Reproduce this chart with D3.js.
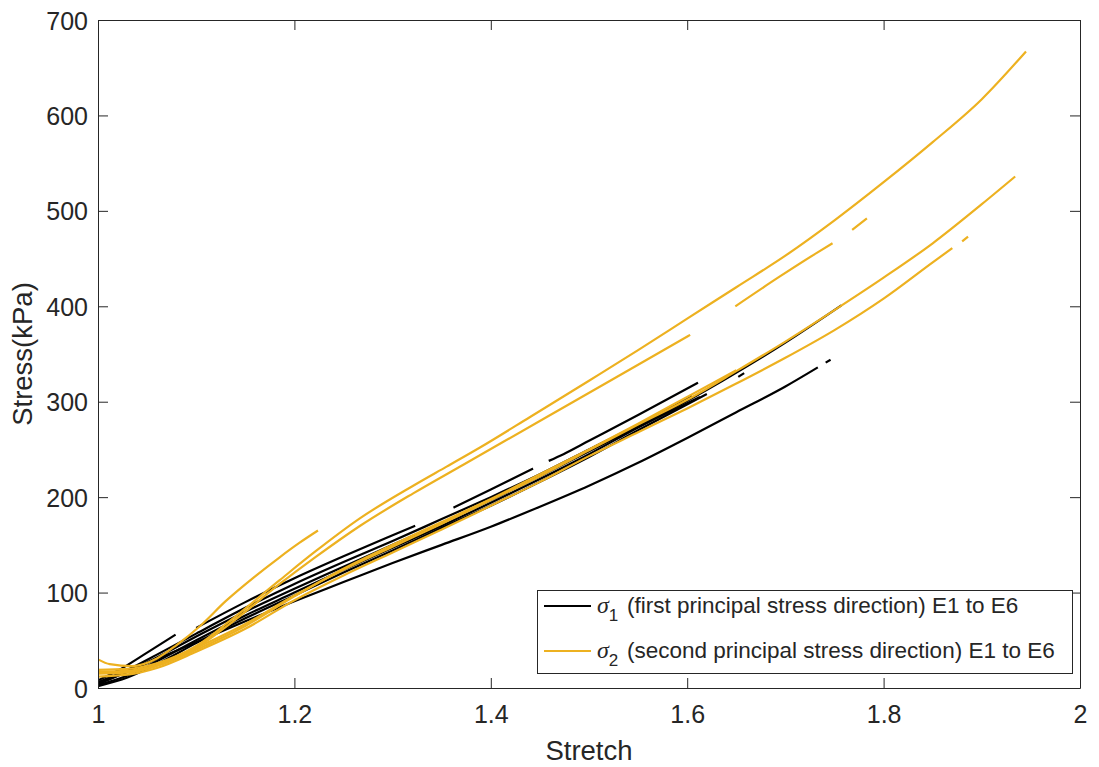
<!DOCTYPE html>
<html>
<head>
<meta charset="utf-8">
<script src="https://cdn.jsdelivr.net/npm/d3@7"></script>
<style>
  html, body { margin: 0; padding: 0; background: #fff; }
  svg { display: block; font-family: "Liberation Sans", Arial, Helvetica, sans-serif; }
</style>
</head>
<body>
<svg id="chart" width="1099" height="767"></svg>
<script>
// ---------- data (stretch, stress kPa); null = gap in the record ----------
const xTicks = [1, 1.2, 1.4, 1.6, 1.8, 2];
const xTickLabels = ["1", "1.2", "1.4", "1.6", "1.8", "2"];
const yTicks = [0, 100, 200, 300, 400, 500, 600, 700];
const yTickLabels = ["0", "100", "200", "300", "400", "500", "600", "700"];

// sigma_1 (first principal stress direction), E1..E6
const sigma1_E1 = [[1.0,4],[1.05,26],[1.1,48],[1.15,70],[1.2,91],[1.25,111],[1.3,131],[1.35,150],[1.4,169],[1.45,190],[1.5,212],[1.55,236],[1.6,262],[1.65,289],[1.7,316],[1.733,336],null,[1.741,341],[1.746,344]];
const sigma1_E2 = [[1.0,8],[1.02,18],[1.05,37],[1.079,56],null,[1.1,63],[1.15,90],[1.2,115],[1.25,138],[1.3,160],[1.323,170],null,[1.362,189],[1.4,208],[1.443,230],null,[1.459,238],[1.474,245],[1.5,259],[1.55,286],[1.611,320]];
const sigma1_E3 = [[1.0,5],[1.03,17],[1.06,32],[1.1,54],[1.15,80],[1.2,104],[1.25,127],[1.3,150],[1.35,173],[1.4,197],[1.45,222],[1.5,248],[1.55,274],[1.6,301],[1.636,322],[1.7,362],[1.757,401]];
const sigma1_E4 = [[1.0,3],[1.03,13],[1.06,28],[1.1,50],[1.15,76],[1.2,100],[1.25,124],[1.3,147],[1.35,170],[1.4,194],[1.45,219],[1.5,245],[1.55,273],[1.613,305],null,[1.652,326],[1.658,330]];
const sigma1_E5 = [[1.0,6],[1.03,19],[1.06,35],[1.1,57],[1.15,84],[1.2,109],[1.25,132],[1.3,154],[1.35,177],[1.4,200],[1.45,224],[1.5,250],[1.55,276],[1.605,306]];
const sigma1_E6 = [[1.0,2],[1.03,11],[1.06,25],[1.1,47],[1.15,73],[1.2,97],[1.25,121],[1.3,144],[1.35,168],[1.4,191],[1.45,216],[1.5,242],[1.55,270],[1.62,308]];

// sigma_2 (second principal stress direction), E1..E6
const sigma2_E1 = [[1.0,19],[1.03,20],[1.06,26],[1.1,44],[1.134,70],[1.185,113],[1.22,142],[1.267,178],[1.321,212],[1.355,232],[1.389,252],[1.44,284],[1.5,322],[1.55,354],[1.6,387],[1.65,420],[1.7,453],[1.75,490],[1.8,530],[1.85,572],[1.9,617],[1.945,667]];
const sigma2_E2 = [[1.0,16],[1.03,17],[1.06,24],[1.1,42],[1.134,67],[1.185,109],[1.22,136],[1.267,170],[1.321,204],[1.372,234],[1.457,284],[1.542,334],[1.603,370],null,[1.649,400],[1.694,431],[1.732,456],[1.748,466],null,[1.768,480],[1.783,492]];
const sigma2_E3 = [[1.0,30],[1.012,25],[1.035,23],[1.06,31],[1.08,45],[1.104,65],[1.13,91],[1.16,117],[1.185,137],[1.205,152],[1.224,165]];
const sigma2_E4 = [[1.0,17],[1.03,18],[1.06,24],[1.1,42],[1.15,67],[1.2,97],[1.25,124],[1.3,148],[1.35,172],[1.4,197],[1.45,222],[1.5,249],[1.55,276],[1.6,302],[1.65,332],[1.7,363],[1.75,396],[1.8,430],[1.85,466],[1.9,507],[1.934,536]];
const sigma2_E5 = [[1.0,12],[1.03,14],[1.06,21],[1.1,38],[1.15,62],[1.2,92],[1.25,118],[1.3,142],[1.35,166],[1.4,191],[1.45,216],[1.5,243],[1.55,268],[1.6,293],[1.65,319],[1.7,346],[1.75,375],[1.8,408],[1.85,446],[1.870,461],null,[1.880,468],[1.886,473]];
const sigma2_E6 = [[1.0,15],[1.03,16],[1.06,23],[1.1,40],[1.15,65],[1.2,96],[1.25,125],[1.3,150],[1.35,174],[1.4,198],[1.45,224],[1.5,250],[1.55,277],[1.6,305],[1.65,333]];

const sigma1Series = [sigma1_E1, sigma1_E2, sigma1_E3, sigma1_E4, sigma1_E5, sigma1_E6];
const sigma2Series = [sigma2_E1, sigma2_E2, sigma2_E3, sigma2_E4, sigma2_E5, sigma2_E6];

const legendLabels = ["(first principal stress direction) E1 to E6", "(second principal stress direction) E1 to E6"];

// ---------- layout ----------
const svg = d3.select("#chart");
const mLeft = 98, mRight = 1080, mTop = 20, mBottom = 688;
const axisColor = "#262626";
const c1 = "#000000", c2 = "#EDB120";

const x = d3.scaleLinear().domain([1, 2]).range([mLeft, mRight]);
const y = d3.scaleLinear().domain([0, 700]).range([mBottom, mTop]);

svg.append("clipPath").attr("id", "clip")
  .append("rect").attr("x", mLeft).attr("y", mTop).attr("width", mRight - mLeft).attr("height", mBottom - mTop);

const line = d3.line()
  .defined(d => d !== null)
  .curve(d3.curveMonotoneX)
  .x(d => x(d[0]))
  .y(d => y(d[1]));

const g = svg.append("g").attr("clip-path", "url(#clip)");
sigma1Series.forEach(s => g.append("path").attr("d", line(s)).attr("fill", "none")
  .attr("stroke", c1).attr("stroke-width", 2.2).attr("stroke-linejoin", "round"));
sigma2Series.forEach(s => g.append("path").attr("d", line(s)).attr("fill", "none")
  .attr("stroke", c2).attr("stroke-width", 2.2).attr("stroke-linejoin", "round"));

// axes
const fmtX = (d, i) => xTickLabels[i];
const fmtY = (d, i) => yTickLabels[i];

const ax = svg.append("g").attr("transform", `translate(0,${mBottom})`)
  .call(d3.axisBottom(x).tickValues(xTicks).tickFormat(fmtX).tickSize(-10).tickSizeOuter(0).tickPadding(17));
const ay = svg.append("g").attr("transform", `translate(${mLeft},0)`)
  .call(d3.axisLeft(y).tickValues(yTicks).tickFormat(fmtY).tickSize(-10).tickSizeOuter(0).tickPadding(10));
const at = svg.append("g").attr("transform", `translate(0,${mTop})`)
  .call(d3.axisTop(x).tickValues(xTicks).tickFormat("").tickSize(-10).tickSizeOuter(0));
const ar = svg.append("g").attr("transform", `translate(${mRight},0)`)
  .call(d3.axisRight(y).tickValues(yTicks).tickFormat("").tickSize(-10).tickSizeOuter(0));

[ax, ay, at, ar].forEach(a => {
  a.selectAll("path.domain").attr("stroke", axisColor).attr("stroke-width", 1);
  a.selectAll(".tick line").attr("stroke", axisColor).attr("stroke-width", 1);
  a.selectAll(".tick text").attr("fill", axisColor)
    .style("font-family", '"Liberation Sans", Arial, sans-serif').style("font-size", "25px");
});
ay.selectAll(".tick text").attr("dy", "0.36em");

// axis labels
svg.append("text").attr("x", (mLeft + mRight) / 2).attr("y", 760)
  .attr("text-anchor", "middle").attr("fill", axisColor).style("font-size", "27.5px").text("Stretch");
svg.append("text").attr("transform", `translate(32,${(mTop + mBottom) / 2}) rotate(-90)`)
  .attr("text-anchor", "middle").attr("fill", axisColor).style("font-size", "27.5px").text("Stress(kPa)");

// legend
const leg = svg.append("g");
leg.append("rect").attr("x", 537.5).attr("y", 590.5).attr("width", 535).attr("height", 83)
  .attr("fill", "#fff").attr("stroke", axisColor).attr("stroke-width", 1);
const rows = [{c: c1, sub: "1", y: 606}, {c: c2, sub: "2", y: 651}];
rows.forEach((r, i) => {
  leg.append("line").attr("x1", 544).attr("x2", 591).attr("y1", r.y).attr("y2", r.y)
    .attr("stroke", r.c).attr("stroke-width", 2.2);
  const t = leg.append("text").attr("x", 597).attr("y", r.y + 7).attr("fill", axisColor).style("font-size", "22.5px");
  t.append("tspan").style("font-family", '"Liberation Serif", "DejaVu Serif", serif').style("font-style", "italic").style("font-size", "24px").text("σ");
  t.append("tspan").attr("dy", 8).style("font-size", "17px").text(r.sub);
  leg.append("text").attr("x", 627).attr("y", r.y + 7).attr("fill", axisColor).style("font-size", "22.5px")
    .text(legendLabels[i]);
});
</script>
</body>
</html>
